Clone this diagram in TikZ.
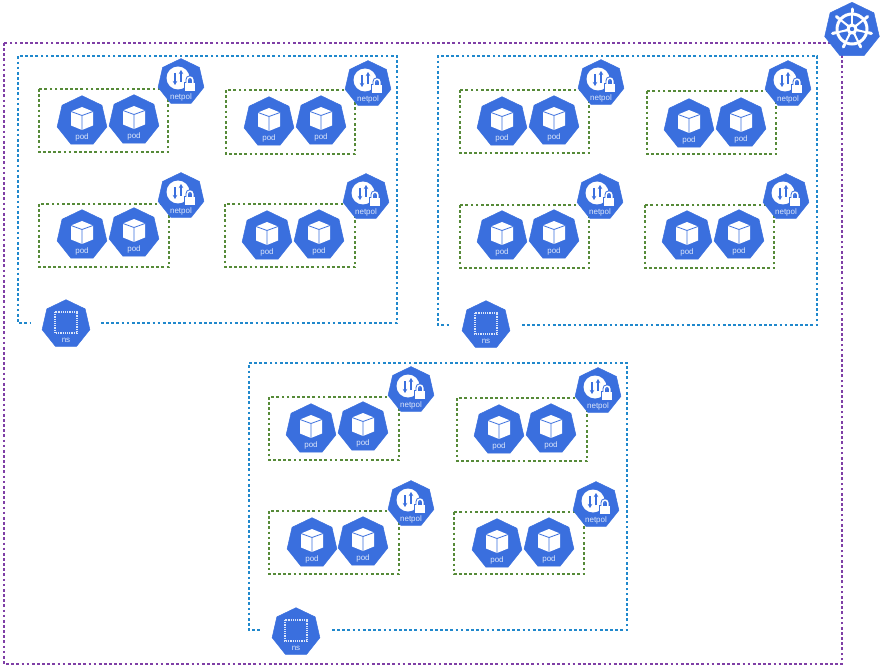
\documentclass[tikz,border=0pt]{standalone}
\usepackage{fontspec}
\setmainfont{Liberation Sans}
\usetikzlibrary{shapes.geometric,arrows.meta}
\definecolor{kblue}{HTML}{3A6FDE}
\definecolor{kpurple}{HTML}{7F3FA6}
\definecolor{nsblue}{HTML}{2088CC}
\definecolor{kgreen}{HTML}{568A38}
\definecolor{labelc}{HTML}{DCE6FA}
\tikzset{
  hepta/.style={regular polygon,regular polygon sides=7,fill=kblue,draw=kblue,line width=0.5pt,line join=round,inner sep=0pt,minimum size=#1},
  dotline/.style={line width=2.6pt,dash pattern=on 2.7pt off 2.45pt},
  outerbox/.style={dotline,draw=kpurple},
  nsbox/.style={dotline,draw=nsblue},
  podbox/.style={dotline,draw=kgreen},
  iconlabel/.style={text=labelc,font=\fontsize{8}{8}\selectfont,inner sep=0pt},
}
% pod icon: name, x, y
\newcommand{\podicon}[3]{%
  \begin{scope}[shift={(#2,#3)}]
    \node[hepta=51pt] (#1) at (0,1.2) {};
    \fill[white] (0,-13) -- (11,-8.5) -- (11,5.5) -- (0,10) -- (-11,5.5) -- (-11,-8.5) -- cycle;
    \draw[kblue,line width=0.8pt,line join=round] (-11,-8.5) -- (0,-4.5) -- (11,-8.5) (0,-4.5) -- (0,10);
    \node[iconlabel] (#1l) at (0,17.5) {pod};
  \end{scope}}
% netpol icon: name, x, y
\newcommand{\netpolicon}[3]{%
  \begin{scope}[shift={(#2,#3)}]
    \node[hepta=47pt] (#1) at (0,1.1) {};
    \fill[white] (-3,-3) circle (11.5);
    \draw[kblue,line width=1.3pt,-{Stealth[length=4pt,width=4.5pt]}] (0,1) -- (0,-11);
    \draw[kblue,line width=1.3pt,-{Stealth[length=4pt,width=4.5pt]}] (-6,-8) -- (-6,4);
    \draw[kblue,line width=3.4pt] (6.2,2) -- (6.2,-1) .. controls (6.2,-4.8) and (11.8,-4.8) .. (11.8,-1) -- (11.8,2);
    \fill[kblue] (3,0.8) rectangle (15,11);
    \draw[white,line width=1.5pt] (6.2,2) -- (6.2,-1) .. controls (6.2,-4.8) and (11.8,-4.8) .. (11.8,-1) -- (11.8,2);
    \fill[white] (4,1.8) rectangle (14,10);
    \node[iconlabel] (#1l) at (0,16) {netpol};
  \end{scope}}
% namespace icon: name, x, y
\newcommand{\nsicon}[3]{%
  \begin{scope}[shift={(#2,#3)}]
    \node[hepta=49pt] (#1) at (0,1.2) {};
    \draw[labelc,line width=1.2pt,dash pattern=on 1.2pt off 1pt] (-11,-11) rectangle (11,10);
    \node[iconlabel] (#1l) at (0,17) {ns};
  \end{scope}}
% one pod group: tag, box corners, pod1 x,y, pod2 x,y, netpol x,y
\newcommand{\podgroup}[1]{\podgroupi#1\relax}
\def\podgroupi#1;#2;#3;#4;#5;#6;#7;#8;#9\relax{%
  \draw[podbox] (#2) rectangle (#3);
  \podicon{#1a}{#4}{#5}
  \podicon{#1b}{#6}{#7}
  \netpolgroup{#1}{#8}{#9}}
\newcommand{\netpolgroup}[3]{\netpolicon{#1n}{#2}{#3}}
\begin{document}
\begin{tikzpicture}[x=1pt,y=-1pt]
\useasboundingbox (0,0) rectangle (880,668);
\fill[white] (0,0) rectangle (880,668);
% cluster
\draw[outerbox] (4,43) rectangle (842,664);
% namespace boxes, open where the ns icon sits
\draw[nsbox] (101,323) -- (397,323) -- (397,56) -- (18,56) -- (18,323) -- (31,323);
\draw[nsbox] (522,325) -- (817,325) -- (817,56) -- (438,56) -- (438,325) -- (451,325);
\draw[nsbox] (332,630) -- (627,630) -- (627,363) -- (249,363) -- (249,630) -- (261,630);
% panel 1
\podgroup{pa;39,89;168,152;82;120;134;119;181;81}
\podgroup{pb;226,90;355,154;269;121;321;120;368;83}
\podgroup{pc;39,204;169,267;82;234;134;232;181;195}
\podgroup{pd;225,204;355,267;267;235;319;234;366;196}
\nsicon{nsa}{66}{323}
% panel 2
\podgroup{qa;460,90;589,153;502;121;554;120;601;82}
\podgroup{qb;647,91;776,154;689;123;741;122;788;83}
\podgroup{qc;460,205;589,268;502;235;554;234;600;196}
\podgroup{qd;645,205;774,268;687;235;739;234;786;196}
\nsicon{nsb}{486}{324}
% panel 3
\podgroup{ra;269,397;399,460;311;428;363;426;411;389}
\podgroup{rb;457,398;587,461;499;429;551;428;598;390}
\podgroup{rc;269,511;399,574;312;542;363;541;411;503}
\podgroup{rd;454,512;584,574;497;543;549;542;596;504}
\nsicon{nsc}{296}{631}
% cluster icon
\begin{scope}[shift={(852,29)}]
  \node[hepta=56pt] (k8s) at (0,1.3) {};
  \draw[white,line width=3pt] (0,0) circle (15);
  \foreach \a in {90,141.43,192.86,244.29,295.71,347.14,38.57}{
    \draw[white,line width=2pt] (0,0) -- (-\a:19);
    \draw[white,line width=3pt,line cap=round] (-\a:17) -- (-\a:20);
    \fill[white] (-\a+14:5) -- (-\a:11) -- (-\a-14:5) -- cycle;
  }
  \fill[white] (0,0) circle (5.5);
  \fill[kblue] (0,0) circle (2.2);
\end{scope}
\end{tikzpicture}
\end{document}
